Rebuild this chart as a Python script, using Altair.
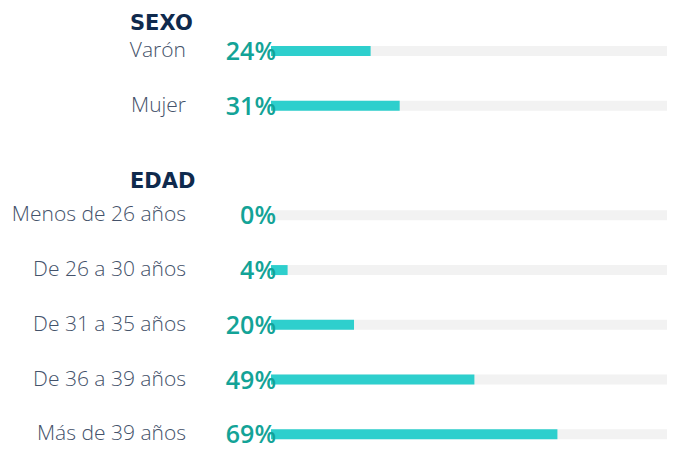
import altair as alt
import pandas as pd

categories = ["Varón", "Mujer", "Menos de 26 años", "De 26 a 30 años",
              "De 31 a 35 años", "De 36 a 39 años", "Más de 39 años"]
values = [24, 31, 0, 4, 20, 49, 69]
rows = [1, 2, 4, 5, 6, 7, 8]
headers = ["SEXO", "EDAD"]
header_rows = [0.5, 3.39]

df = pd.DataFrame({"cat": categories, "val": values, "row": rows,
                   "lab": [f"{v}%" for v in values]})
hdf = pd.DataFrame({"h": headers, "row": header_rows})

W, H = 396, 442
yscale = alt.Scale(domain=[0.3036, 8.196], nice=False, zero=False, reverse=True)
xscale = alt.Scale(domain=[0, 95.4], nice=False)
Y = alt.Y("row:Q", scale=yscale, axis=None)

base = alt.Chart(df)
bg = base.mark_bar(color="#f2f2f2", height=10, orient="horizontal").encode(
    x=alt.value(0), x2=alt.value(W), y=Y)
bars = base.mark_bar(color="#2ecfcd", height=10, orient="horizontal").encode(
    x=alt.X("val:Q", scale=xscale, axis=None), x2=alt.datum(0), y=Y)
pct = base.mark_text(align="right", baseline="middle", dy=1, font="Open Sans",
                     fontSize=25, fontWeight=600, color="#13a397").encode(
    x=alt.value(5), y=Y, text="lab:N")
labs = base.mark_text(align="right", baseline="middle", dy=0, font="Open Sans",
                      fontSize=21, fontWeight=300, color="#44526a").encode(
    x=alt.value(-85), y=Y, text="cat:N")
heads = alt.Chart(hdf).mark_text(align="left", baseline="middle", font="DejaVu Sans",
                                 fontSize=21, fontWeight="bold", color="#0f2a4d").encode(
    x=alt.value(-141), y=alt.Y("row:Q", scale=yscale, axis=None), text="h:N")

chart = alt.layer(bg, bars, pct, labs, heads).properties(
    width=W, height=H,
    autosize=alt.AutoSizeParams(type="none"),
    padding={"left": 263, "right": 0, "top": 0, "bottom": 0},
).configure_view(stroke=None)

chart.save("out.html", embed_options={"renderer": "svg", "actions": False})
